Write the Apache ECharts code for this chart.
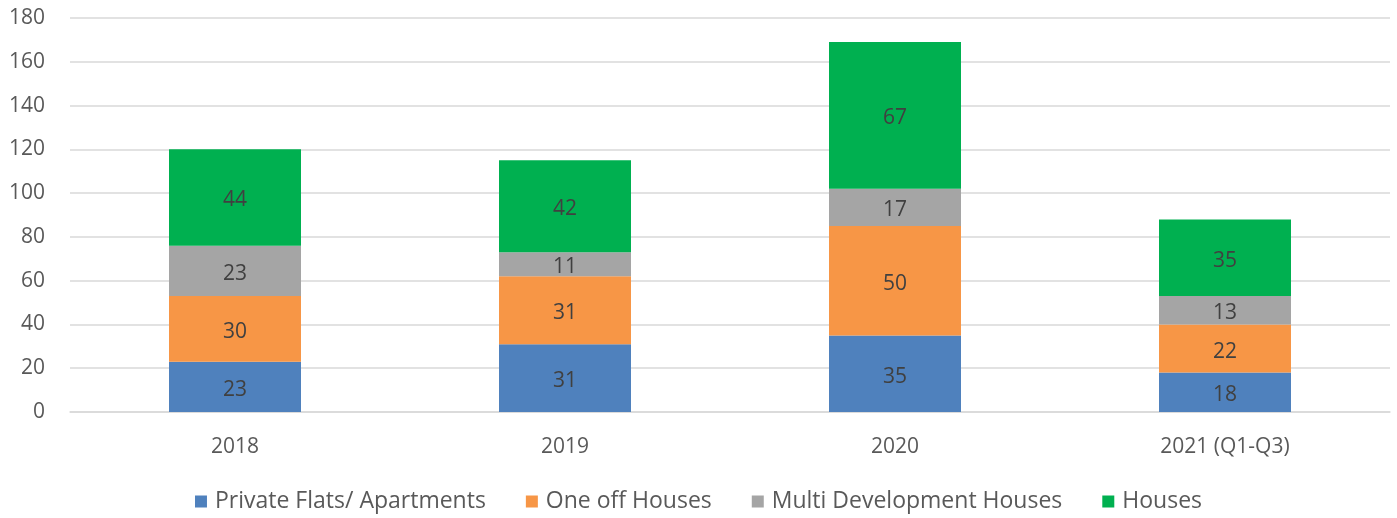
<!DOCTYPE html>
<html><head><meta charset="utf-8">
<script src="https://cdn.jsdelivr.net/npm/echarts@6/dist/echarts.min.js"></script>
<style>html,body{margin:0;padding:0;background:#fff}#c{width:1397px;height:518px}</style>
</head><body><div id="c"></div>
<script>
const categories = ["2018", "2019", "2020", "2021 (Q1-Q3)"];
const privateFlats = [23, 31, 35, 18];
const oneOffHouses = [30, 31, 50, 22];
const multiDevHouses = [23, 11, 17, 13];
const houses = [44, 42, 67, 35];
const seriesNames = ["Private Flats/ Apartments", "One off Houses", "Multi Development Houses", "Houses"];
const colors = ["#4F81BD", "#F79646", "#A5A5A5", "#00B050"];
const dataSets = [privateFlats, oneOffHouses, multiDevHouses, houses];

const font = "'Open Sans', 'Liberation Sans', sans-serif";
const chart = echarts.init(document.getElementById('c'));
chart.setOption({
  animation: false,
  textStyle: {fontFamily: font},
  legend: {
    bottom: 0, left: 'center', itemWidth: 12, itemHeight: 12, itemGap: 40,
    icon: 'rect',
    textStyle: {fontSize: 23, color: '#595959', fontFamily: font, padding: [0, 0, 0, 3]},
    data: seriesNames
  },
  grid: {left: 70, right: 7, top: 18, bottom: 106},
  xAxis: {
    type: 'category', data: categories,
    axisLine: {lineStyle: {color: '#D9D9D9', width: 1.5}},
    axisTick: {show: false},
    axisLabel: {fontSize: 21, color: '#595959', margin: 25, fontFamily: font}
  },
  yAxis: {
    type: 'value', min: 0, max: 180, interval: 20,
    axisLine: {show: false}, axisTick: {show: false},
    splitLine: {lineStyle: {color: '#D9D9D9', width: 1.5}},
    axisLabel: {fontSize: 21, color: '#595959', margin: 25, fontFamily: font}
  },
  series: dataSets.map((d, i) => ({
    name: seriesNames[i], type: 'bar', stack: 'total', data: d,
    barWidth: '40%',
    itemStyle: {color: colors[i]},
    label: {show: true, position: 'inside', fontSize: 21, color: '#404040', fontFamily: font, offset: [0, 3]}
  }))
});
</script></body></html>
